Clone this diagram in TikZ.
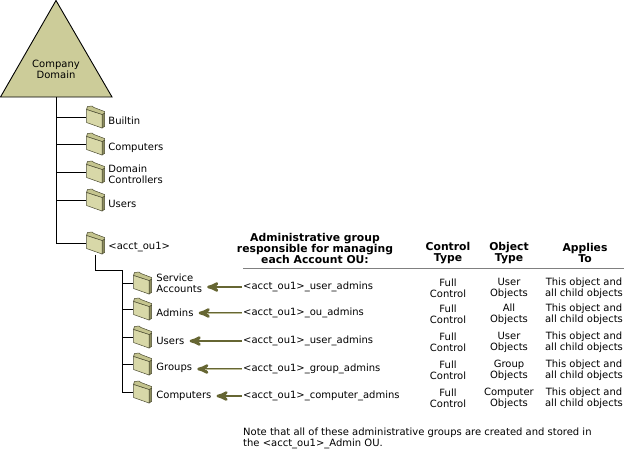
\documentclass[tikz,border=0pt]{standalone}
\usepackage{fontspec}
\setmainfont{DejaVu Sans}
\usetikzlibrary{arrows,calc,positioning}
\definecolor{domkhaki}{HTML}{CCCC99}
\definecolor{foldfront}{HTML}{D8D8A8}
\definecolor{foldback}{HTML}{C4C48E}
\definecolor{foldside}{HTML}{8C8C5C}
\definecolor{foldline}{HTML}{4A4A30}
\definecolor{pildark}{HTML}{666633}
\definecolor{pilpale}{HTML}{BDBD98}
\tikzset{
    >=stealth',
    txt/.style={
           inner sep=0pt,
           align=left,
           font=\fontsize{10}{11}\selectfont},
    hdr/.style={
           txt,
           align=center,
           font=\fontsize{10.8}{11}\selectfont\bfseries},
    cell/.style={
           txt,
           align=center},
    folder/.pic={
           \begin{scope}[draw=foldline, line width=0.5pt]
             \filldraw[fill=foldback] (-9,-7.5) -- (-8,-10.5) -- (-3.5,-11) -- (-1.5,-9.5) -- (9,-5.5) -- (9,-3.5) -- (6.5,-2.5) -- cycle;
             \filldraw[fill=foldside] (6.5,-2.5) -- (9,-3.5) -- (9,9.5) -- (6.5,11) -- cycle;
             \filldraw[fill=foldfront] (-9,-7.5) -- (6.5,-2.5) -- (6.5,11) -- (-9,5.5) -- cycle;
           \end{scope}},
    fold/.style={
           minimum width=19pt,
           minimum height=23pt,
           inner sep=0pt,
           append after command={pic at (\tikzlastnode.center) {folder}}},
    tree/.style={
           line width=0.9pt},
    pil/.style={
           ->,
           line width=2.6pt,
           draw=pildark,
           shorten >=5pt,
           shorten <=1pt},
    pale/.style={
           pil,
           postaction={draw=pilpale, line width=0.9pt, -, shorten >=13pt}}
}

\begin{document}
\begin{tikzpicture}[x=1pt, y=-1pt, node distance=3pt]
        \useasboundingbox (0,0) rectangle (627,451);
        % domain
        \filldraw[fill=domkhaki, draw=black, line width=0.9pt] (56,0.5) -- (112,97) -- (0.5,97) -- cycle;
        \node[txt, align=center] (dom) at (56,69) {Company\\Domain};
        \coordinate (root) at (56,97);
        % first level OUs
        \node[fold] (f1) at (95.5,117) {};
        \node[fold] (f2) at (95.5,144) {};
        \node[fold] (f3) at (95.5,172) {};
        \node[fold] (f4) at (95.5,200) {};
        \node[fold] (fa) at (95.5,243) {};
        \node[txt, right=of f1, yshift=-4pt] (l1) {Builtin};
        \node[txt, right=of f2, yshift=-4pt] (l2) {Computers};
        \node[txt, right=of f3, yshift=-2pt] (l3) {Domain\\Controllers};
        \node[txt, right=of f4, yshift=-4pt] (l4) {Users};
        \node[txt, right=of fa, yshift=-4pt] (la) {<acct\_ou1>};
        \draw[tree] (root) |- (f1.west);
        \draw[tree] (root) |- (f2.west);
        \draw[tree] (root) |- (f3.west);
        \draw[tree] (root) |- (f4.west);
        \draw[tree] (root) |- (fa.west);
        % account OU children
        \coordinate (sub) at (122,270);
        \node[fold] (s1) at (142.5,283) {};
        \node[fold] (s2) at (142.5,309) {};
        \node[fold] (s3) at (142.5,337) {};
        \node[fold] (s4) at (142.5,364) {};
        \node[fold] (s5) at (142.5,392) {};
        \node[txt, right=4pt of s1] (m1) {Service\\Accounts};
        \node[txt, right=4pt of s2, yshift=-4pt] (m2) {Admins};
        \node[txt, right=4pt of s3, yshift=-4pt] (m3) {Users};
        \node[txt, right=4pt of s4, yshift=-4pt] (m4) {Groups};
        \node[txt, right=4pt of s5, yshift=-4pt] (m5) {Computers};
        \draw[tree] (fa.south) |- (sub);
        \draw[tree] (sub) |- (s1.west);
        \draw[tree] (sub) |- (s2.west);
        \draw[tree] (sub) |- (s3.west);
        \draw[tree] (sub) |- (s4.west);
        \draw[tree] (sub) |- (s5.west);
        % admin groups
        \node[hdr] (hgrp) at (315,248) {Administrative group\\responsible for managing\\each Account OU:};
        \node[hdr] (hctl) at (448,253) {Control\\Type};
        \node[hdr] (hobj) at (509,253) {Object\\Type};
        \node[hdr] (happ) at (585,253) {Applies\\To};
        \draw[gray, line width=0.8pt] (243,268) -- (624,268);
        \node[txt, anchor=west] (g1) at (243,287) {<acct\_ou1>\_user\_admins};
        \node[txt, anchor=west] (g2) at (243,313) {<acct\_ou1>\_ou\_admins};
        \node[txt, anchor=west] (g3) at (243,341) {<acct\_ou1>\_user\_admins};
        \node[txt, anchor=west] (g4) at (243,369) {<acct\_ou1>\_group\_admins};
        \node[txt, anchor=west] (g5) at (243,396) {<acct\_ou1>\_computer\_admins};
        \draw[pil] (g1.west) -- (g1.west -| m1.east);
        \draw[pale] (g2.west) -- (g2.west -| m2.east);
        \draw[pil] (g3.west) -- (g3.west -| m3.east);
        \draw[pale] (g4.west) -- (g4.west -| m4.east);
        \draw[pil] (g5.west) -- (g5.west -| m5.east);
        % rights
        \node[cell] (c1) at (448,288) {Full\\Control};
        \node[cell] (c2) at (448,314) {Full\\Control};
        \node[cell] (c3) at (448,342) {Full\\Control};
        \node[cell] (c4) at (448,370) {Full\\Control};
        \node[cell] (c5) at (448,398) {Full\\Control};
        \node[cell] (o1) at (509,288) {User\\Objects};
        \node[cell] (o2) at (509,314) {All\\Objects};
        \node[cell] (o3) at (509,342) {User\\Objects};
        \node[cell] (o4) at (509,370) {Group\\Objects};
        \node[cell] (o5) at (509,398) {Computer\\Objects};
        \node[cell] (a1) at (584,288) {This object and\\all child objects};
        \node[cell] (a2) at (584,314) {This object and\\all child objects};
        \node[cell] (a3) at (584,342) {This object and\\all child objects};
        \node[cell] (a4) at (584,370) {This object and\\all child objects};
        \node[cell] (a5) at (584,398) {This object and\\all child objects};
        \node[txt, anchor=north west] (note) at (243,428) {Note that all of these administrative groups are created and stored in\\the <acct\_ou1>\_Admin OU.};
    \end{tikzpicture}
\end{document}
